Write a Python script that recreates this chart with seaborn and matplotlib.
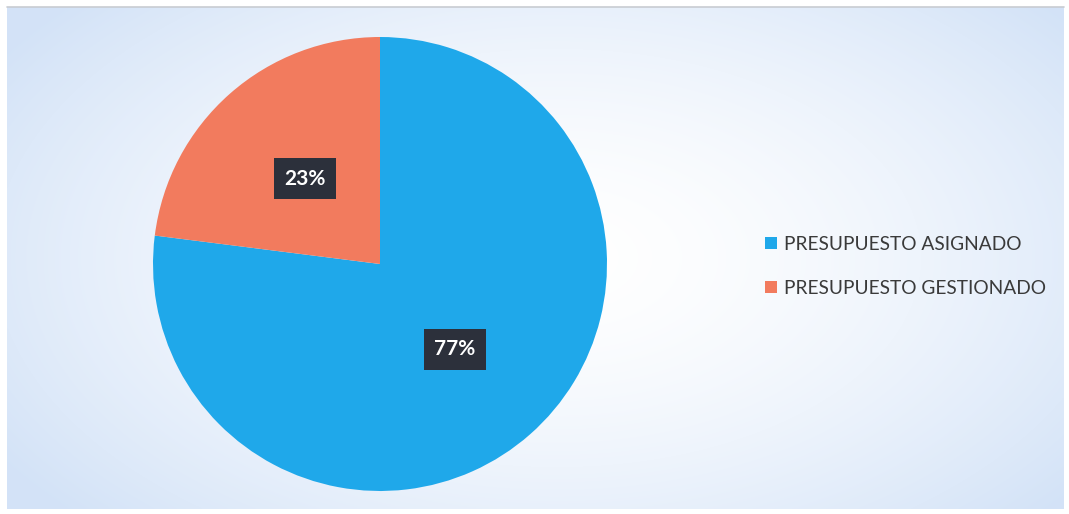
import matplotlib.pyplot as plt
import numpy as np
import seaborn as sns

sns.set_theme(style="white")
plt.rcParams['font.family'] = ['Lato', 'DejaVu Sans']

# data
labels = ['PRESUPUESTO ASIGNADO', 'PRESUPUESTO GESTIONADO']
values = [77, 23]
colors = ['#1FA8EA', '#F27B5E']

fig = plt.figure(figsize=(10.69, 5.14), dpi=100, facecolor='white')

# background panel with soft radial gradient (white centre, pale blue edges)
bg = fig.add_axes([7 / 1069, 5 / 514, 1057 / 1069, 502 / 514])
yy, xx = np.mgrid[0:1:300j, 0:1:600j]
d = np.sqrt(((xx - 0.52) / 0.62) ** 2 + ((yy - 0.5) / 0.75) ** 2)
d = np.clip(d, 0, 1) ** 1.6
edge = np.array([0.83, 0.89, 0.97])
img = 1 - d[..., None] * (1 - edge)
bg.imshow(img, aspect='auto', extent=[0, 1, 0, 1], interpolation='bilinear')
bg.set_axis_off()
bg.plot([0, 1], [1, 1], color='#c8ccd2', lw=1.2, transform=bg.transAxes, clip_on=False)

# pie
ax = fig.add_axes([153 / 1069, 23 / 514, 454 / 1069, 454 / 514])
wedges, texts, autotexts = ax.pie(values, colors=colors, startangle=90, counterclock=False,
                                  radius=1, autopct='%1.0f%%', pctdistance=0.5,
                                  wedgeprops=dict(linewidth=0))
for t in autotexts:
    t.set_color('white')
    t.set_fontsize(15)
    t.set_fontweight('bold')
    t.set_bbox(dict(boxstyle='square,pad=0.5', facecolor='#2c303b', edgecolor='none'))
ax.set_xlim(-1, 1)
ax.set_ylim(-1, 1)
ax.set_aspect('equal')

fig.legend(wedges, labels, loc='center left', bbox_to_anchor=(748 / 1069, 0.482),
           frameon=False, fontsize=13.8, handlelength=0.6, handleheight=0.6,
           handletextpad=0.4, labelspacing=1.4, labelcolor='#3a3a3a')

fig.savefig('out.png', dpi=100)
